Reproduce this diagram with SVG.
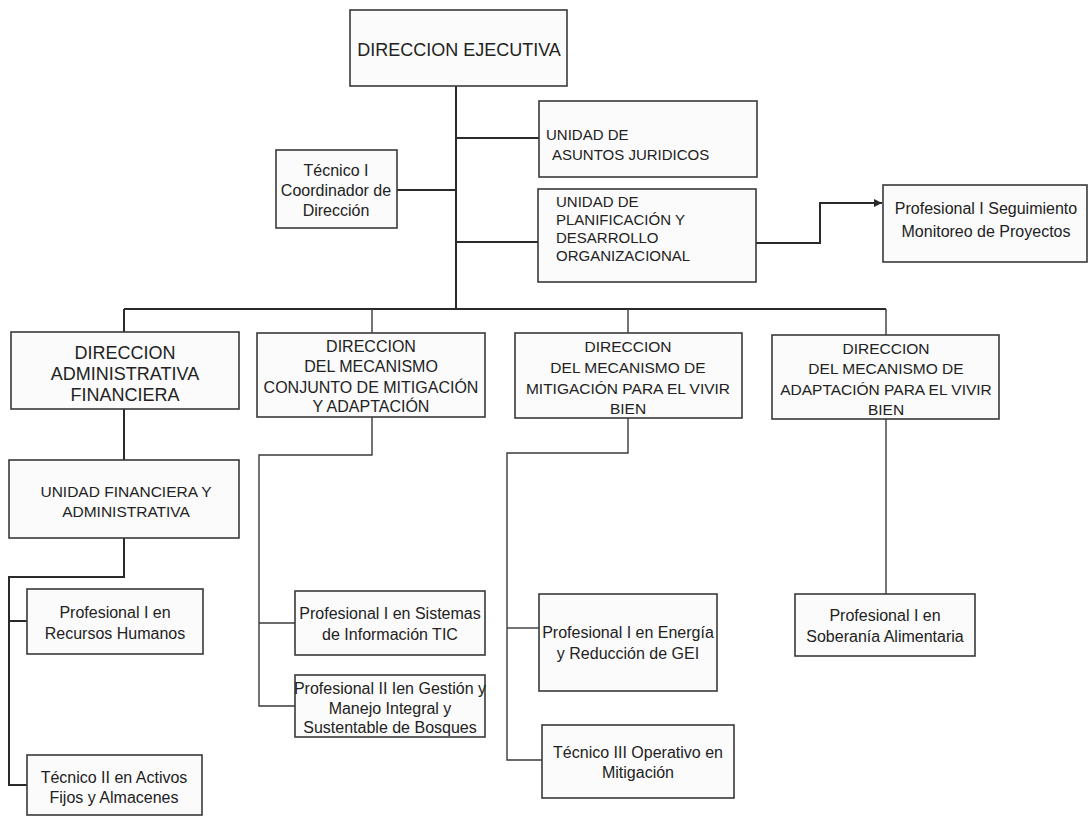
<svg xmlns="http://www.w3.org/2000/svg" width="1090" height="818" viewBox="0 0 1090 818">
<defs>
<style>
.box{fill:#fbfbfb;stroke:#3a3a3a;stroke-width:1.6}
.ln{fill:none;stroke:#2a2a2a;stroke-width:2}
.tn{fill:none;stroke:#3a3a3a;stroke-width:1.4}
text{font-family:"Liberation Sans",Arial,sans-serif;fill:#222}
.c{text-anchor:middle}
.f18{font-size:18px}
.f16{font-size:16px}
.f15{font-size:15.5px}
.f14{font-size:15px}
.s{font-size:16px}
</style>
<marker id="arr" markerWidth="10" markerHeight="10" refX="9" refY="5" orient="auto" markerUnits="userSpaceOnUse">
<path d="M1,1 L9,5 L1,9 Z" fill="#2a2a2a"/>
</marker>
</defs>
<rect width="1090" height="818" fill="#ffffff"/>
<g id="connectors">
<path class="ln" d="M456,86 V309"/>
<path class="ln" d="M397,190 H456"/>
<path class="ln" d="M456,138 H539"/>
<path class="ln" d="M456,242 H538"/>
<path class="ln" d="M756,243 H820 V203 H882" marker-end="url(#arr)"/>
<path class="ln" d="M124,309 H886"/>
<path class="ln" d="M124,309 V332"/>
<path class="tn" d="M372,309 V333"/>
<path class="tn" d="M628,309 V333"/>
<path class="tn" d="M886,309 V335"/>
<path class="ln" d="M124,409 V460"/>
<path class="ln" d="M124,538 V577 H9 V785 H27"/>
<path class="ln" d="M9,621 H27"/>
<path class="tn" d="M372,417 V455 H259 V706 H295"/>
<path class="tn" d="M259,623 H295"/>
<path class="tn" d="M628,418 V453 H507 V760 H542"/>
<path class="tn" d="M507,628 H539"/>
<path class="tn" d="M886,419 V594"/>
</g>
<g id="direccion-ejecutiva">
<rect class="box" x="350" y="10" width="217" height="76"/>
<text class="c f18" x="459" y="56">DIRECCION EJECUTIVA</text>
</g>
<g id="tecnico-coordinador">
<rect class="box" x="276" y="150" width="121" height="78"/>
<text class="c s" x="336" y="176">Técnico I</text>
<text class="c s" x="336" y="196">Coordinador de</text>
<text class="c s" x="336" y="216">Dirección</text>
</g>
<g id="asuntos-juridicos">
<rect class="box" x="539" y="101" width="218" height="76"/>
<text class="f14" x="546" y="140">UNIDAD DE</text>
<text class="f14" x="552" y="160">ASUNTOS JURIDICOS</text>
</g>
<g id="planificacion">
<rect class="box" x="538" y="189" width="218" height="93"/>
<text class="f14" x="556" y="207">UNIDAD DE</text>
<text class="f14" x="556" y="225">PLANIFICACIÓN Y</text>
<text class="f14" x="556" y="243">DESARROLLO</text>
<text class="f14" x="556" y="261">ORGANIZACIONAL</text>
</g>
<g id="seguimiento">
<rect class="box" x="883" y="185" width="204" height="77"/>
<text class="c s" x="986" y="214">Profesional I Seguimiento</text>
<text class="c s" x="986" y="237">Monitoreo de Proyectos</text>
</g>
<g id="dir-administrativa">
<rect class="box" x="11" y="332" width="228" height="77"/>
<text class="c f18" x="125" y="359">DIRECCION</text>
<text class="c f18" x="125" y="380">ADMINISTRATIVA</text>
<text class="c f18" x="125" y="401">FINANCIERA</text>
</g>
<g id="dir-conjunto">
<rect class="box" x="257" y="333" width="228" height="84"/>
<text class="c f16" x="371" y="352">DIRECCION</text>
<text class="c f16" x="371" y="372">DEL MECANISMO</text>
<text class="c f16" x="371" y="393">CONJUNTO DE MITIGACIÓN</text>
<text class="c f16" x="371" y="412">Y ADAPTACIÓN</text>
</g>
<g id="dir-mitigacion">
<rect class="box" x="515" y="333" width="227" height="85"/>
<text class="c f15" x="628" y="352">DIRECCION</text>
<text class="c f15" x="628" y="373">DEL MECANISMO DE</text>
<text class="c f15" x="628" y="394">MITIGACIÓN PARA EL VIVIR</text>
<text class="c f15" x="628" y="414">BIEN</text>
</g>
<g id="dir-adaptacion">
<rect class="box" x="772" y="335" width="227" height="84"/>
<text class="c f15" x="886" y="354">DIRECCION</text>
<text class="c f15" x="886" y="374">DEL MECANISMO DE</text>
<text class="c f15" x="886" y="395">ADAPTACIÓN PARA EL VIVIR</text>
<text class="c f15" x="886" y="415">BIEN</text>
</g>
<g id="unidad-financiera">
<rect class="box" x="9" y="460" width="230" height="78"/>
<text class="c f15" x="126" y="497">UNIDAD FINANCIERA Y</text>
<text class="c f15" x="126" y="517">ADMINISTRATIVA</text>
</g>
<g id="recursos-humanos">
<rect class="box" x="27" y="589" width="176" height="65"/>
<text class="c s" x="115" y="618">Profesional I en</text>
<text class="c s" x="115" y="639">Recursos Humanos</text>
</g>
<g id="activos-fijos">
<rect class="box" x="27" y="755" width="175" height="60"/>
<text class="c s" x="114" y="783">Técnico II en Activos</text>
<text class="c s" x="114" y="803">Fijos y Almacenes</text>
</g>
<g id="sistemas-tic">
<rect class="box" x="295" y="591" width="190" height="64"/>
<text class="c s" x="390" y="619">Profesional I en Sistemas</text>
<text class="c s" x="390" y="640">de Información TIC</text>
</g>
<g id="gestion-bosques">
<rect class="box" x="295" y="675" width="190" height="62"/>
<text class="c s" x="390" y="694">Profesional II Ien Gestión y</text>
<text class="c s" x="390" y="714">Manejo Integral y</text>
<text class="c s" x="390" y="733">Sustentable de Bosques</text>
</g>
<g id="energia-gei">
<rect class="box" x="539" y="594" width="178" height="97"/>
<text class="c s" x="628" y="638">Profesional I en Energía</text>
<text class="c s" x="628" y="659">y Reducción de GEI</text>
</g>
<g id="operativo-mitigacion">
<rect class="box" x="542" y="725" width="192" height="73"/>
<text class="c s" x="638" y="758">Técnico III Operativo en</text>
<text class="c s" x="638" y="778">Mitigación</text>
</g>
<g id="soberania-alimentaria">
<rect class="box" x="795" y="594" width="180" height="62"/>
<text class="c s" x="885" y="621">Profesional I en</text>
<text class="c s" x="885" y="642">Soberanía Alimentaria</text>
</g>
</svg>
